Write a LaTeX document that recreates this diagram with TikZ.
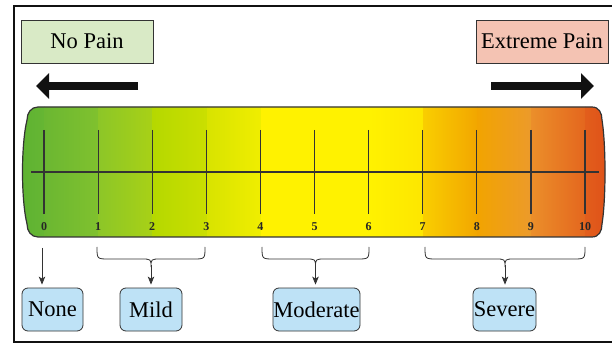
\documentclass[tikz,border=0pt]{standalone}
\usepackage{fontspec}
\setmainfont{Liberation Serif}
\newfontfamily\lblfont{Liberation Serif}
\usetikzlibrary{arrows.meta}
\definecolor{framec}{HTML}{111111}
\definecolor{edgec}{HTML}{333333}
\definecolor{nopainc}{HTML}{D9EAC6}
\definecolor{extremec}{HTML}{F4C3B3}
\definecolor{catc}{HTML}{BEE2F6}
\definecolor{g0}{HTML}{5DB232}\definecolor{g1}{HTML}{66B633}
\definecolor{g2}{HTML}{6BB732}\definecolor{g3}{HTML}{80C12E}
\definecolor{g4}{HTML}{8CC628}\definecolor{g5}{HTML}{A8D116}
\definecolor{g6}{HTML}{B5D800}\definecolor{g7}{HTML}{CBDF00}
\definecolor{g8}{HTML}{D8E300}\definecolor{g9}{HTML}{F0EE00}
\definecolor{yy}{HTML}{FFF200}\definecolor{y2}{HTML}{FDE600}
\definecolor{o0}{HTML}{F9CE00}\definecolor{o1}{HTML}{F2A600}
\definecolor{o2}{HTML}{F2A400}\definecolor{o3}{HTML}{EC9A2B}
\definecolor{o4}{HTML}{EB8F2A}\definecolor{o5}{HTML}{E4661E}
\definecolor{o6}{HTML}{E25E1C}\definecolor{o7}{HTML}{DE4E18}
\def\painbarpath{(38,107) -- (592,107) .. controls (599,107) and (602,113) .. (602,120)
  .. controls (606,145) and (606,199) .. (602,224)
  .. controls (602,231) and (599,237) .. (592,237) -- (38,237)
  .. controls (31,237) and (27,231) .. (27,224)
  .. controls (21,199) and (21,145) .. (27,120)
  .. controls (27,113) and (31,107) .. (38,107) -- cycle}
\newcommand\painbrace[4]{%
  \draw[bracestyle] (#1,247) .. controls (#1,259) .. (#1+12,259) -- (#3-10,259)
    .. controls (#3,259) .. (#3,267) .. controls (#3,259) .. (#3+10,259)
    -- (#2-12,259) .. controls (#2,259) .. (#2,247);
  \coordinate (#4) at (#3,265);}
\tikzset{
  topbox/.style={draw=edgec, line width=0.8pt, minimum height=43pt, inner sep=0pt,
    font=\lblfont\fontsize{22.5}{24}\selectfont, text=black},
  catbox/.style={draw=edgec, line width=0.8pt, rounded corners=6pt, fill=catc,
    minimum height=43pt, inner sep=0pt, font=\lblfont\fontsize{22.5}{24}\selectfont, text=black},
  bigarrow/.style={line width=8pt, draw=framec, -{Triangle[length=13pt,width=25pt]}},
  tickline/.style={line width=1.2pt, draw=edgec},
  numlabel/.style={font=\lblfont\bfseries\fontsize{12}{13}\selectfont, inner sep=0pt, text=black!85},
  bracestyle/.style={line width=0.8pt, draw=edgec},
  arr/.style={line width=0.8pt, draw=edgec, -{Stealth[length=8pt,width=6.5pt,inset=2pt]}, shorten >=3pt},
}
\begin{document}
\begin{tikzpicture}[x=1pt,y=-1pt]
\useasboundingbox (0,0) rectangle (612,344);
\fill[white] (0,0) rectangle (612,344);
% frame
\draw[line width=2pt, draw=framec] (14,6) rectangle (640,342);
% top boxes
\node[topbox, fill=nopainc, minimum width=132pt] (nopain) at (87,41.5) {No Pain};
\node[topbox, fill=extremec, minimum width=132pt] (extreme) at (542,41.5) {Extreme Pain};
% big arrows
\coordinate (la1) at (138,86); \coordinate (la2) at (36,86);
\coordinate (ra1) at (491,86); \coordinate (ra2) at (594,86);
\draw[bigarrow] (la1) -- (la2);
\draw[bigarrow] (ra1) -- (ra2);
% shaded bar
\begin{scope}
\clip \painbarpath;
\shade[left color=g0, right color=g1] (18,100) rectangle (44.5,245);
\shade[left color=g2, right color=g3] (44,100) rectangle (98.5,245);
\shade[left color=g4, right color=g5] (98,100) rectangle (152.5,245);
\shade[left color=g6, right color=g7] (152,100) rectangle (207.5,245);
\shade[left color=g8, right color=g9] (207,100) rectangle (261.5,245);
\fill[yy] (261,100) rectangle (369.5,245);
\shade[left color=yy, right color=y2] (369,100) rectangle (423.5,245);
\shade[left color=o0, right color=o1] (423,100) rectangle (477.5,245);
\shade[left color=o2, right color=o3] (477,100) rectangle (531.5,245);
\shade[left color=o4, right color=o5] (531,100) rectangle (585.5,245);
\shade[left color=o6, right color=o7] (585,100) rectangle (612,245);
\end{scope}
\draw[line width=1.2pt, draw=edgec] \painbarpath;
% axis
\coordinate (axL) at (31,172); \coordinate (axR) at (599,172);
\draw[tickline, line width=1.4pt] (axL) -- (axR);
\foreach \i in {0,...,10}{
  \pgfmathsetmacro\xx{44+54.1*\i}
  \coordinate (tt\i) at (\xx,130);
  \coordinate (tb\i) at (\xx,214);
  \draw[tickline] (tt\i) -- (tb\i);
  \node[numlabel] (n\i) at (\xx,227) {\i};
}
% categories
\node[catbox, minimum width=61pt] (none) at (52.5,309.5) {None};
\node[catbox, minimum width=62pt] (mild) at (151,309.5) {Mild};
\node[catbox, minimum width=87pt] (moderate) at (316.5,309.5) {Moderate};
\node[catbox, minimum width=63pt] (severe) at (504.5,309.5) {Severe};
% connectors
\coordinate (nonetop) at (42,248);
\draw[arr] (nonetop) -- (nonetop |- none.north);
\painbrace{97}{205}{151}{mildtip}
\painbrace{262}{369}{315.5}{modtip}
\painbrace{425}{585}{505}{sevtip}
\draw[arr] (mildtip) -- (mildtip |- mild.north);
\draw[arr] (modtip) -- (modtip |- moderate.north);
\draw[arr] (sevtip) -- (sevtip |- severe.north);
\end{tikzpicture}
\end{document}
